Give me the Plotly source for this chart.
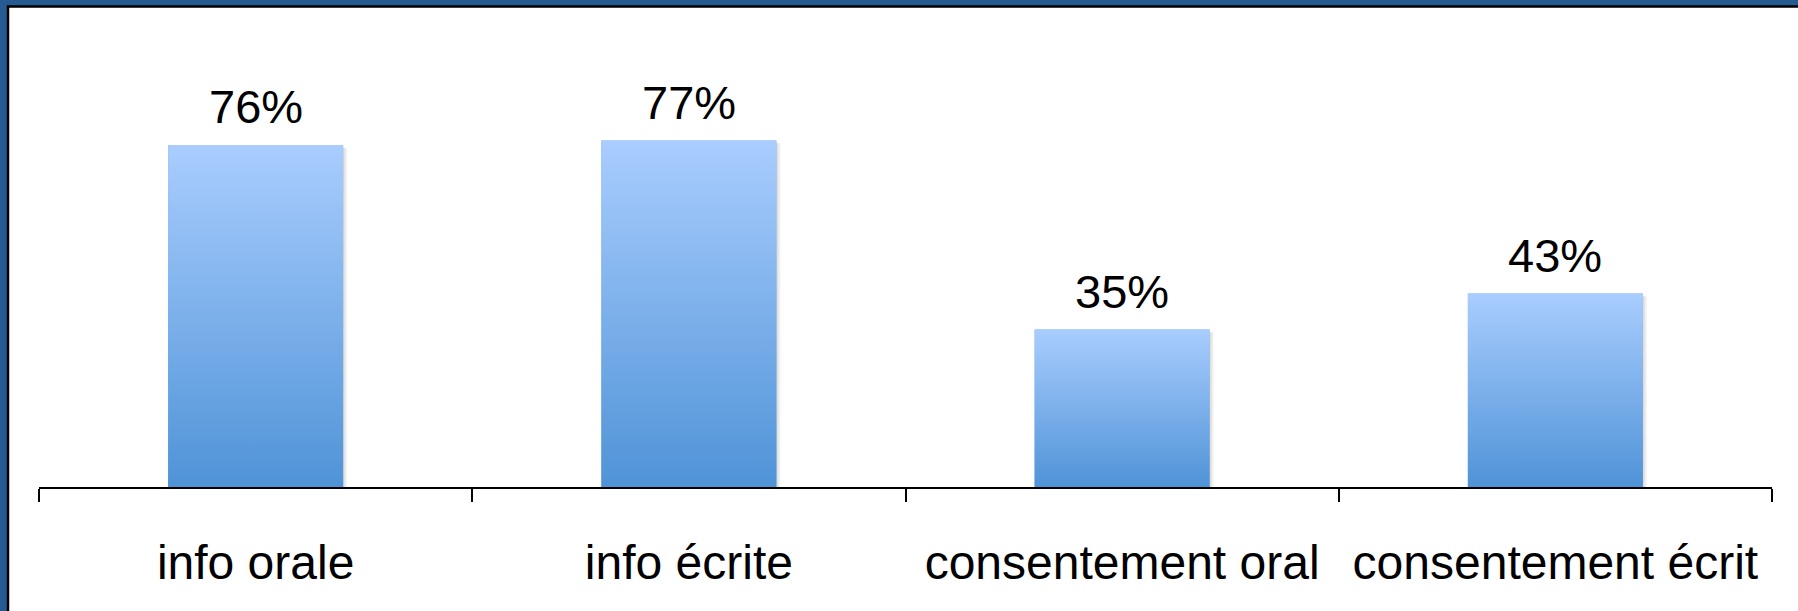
import plotly.graph_objects as go

categories = ["info orale", "info écrite", "consentement oral", "consentement écrit"]
values = [76, 77, 35, 43]
value_labels = [f"{v}%" for v in values]

W, H = 1798, 611
ML, MR, MT, MB = 39, 26, 82, 124
PW = W - ML - MR
PH = H - MT - MB
BAR_W = 0.404
SHADOW_W = 0.011
TOP_C = "#A9CDFE"
BOT_C = "#4F93D7"
FONT = "Liberation Sans, Arial, sans-serif"

fig = go.Figure()

# base bar trace (establishes categories; covered by gradient)
fig.add_trace(go.Bar(x=categories, y=values, width=BAR_W,
                     marker=dict(color="#7AAEEA", line=dict(width=0)),
                     hoverinfo="x+y", showlegend=False))

for i, v in enumerate(values):
    x0, x1 = i - BAR_W / 2, i + BAR_W / 2
    # soft shadow to the right of the bar
    fig.add_trace(go.Scatter(
        x=[x1, x1 + SHADOW_W, x1 + SHADOW_W, x1, x1],
        y=[0, 0, v - 0.6, v - 0.6, 0],
        xaxis="x2", yaxis="y", mode="lines", line=dict(width=0),
        fill="toself",
        fillgradient=dict(type="horizontal",
                          colorscale=[[0, "rgba(0,0,0,0.16)"], [1, "rgba(0,0,0,0)"]]),
        hoverinfo="skip", showlegend=False))
    # gradient bar body
    fig.add_trace(go.Scatter(
        x=[x0, x1, x1, x0, x0], y=[0, 0, v, v, 0],
        xaxis="x2", yaxis="y", mode="lines", line=dict(width=0),
        fill="toself",
        fillgradient=dict(type="vertical",
                          colorscale=[[0, BOT_C], [1, TOP_C]]),
        hoverinfo="skip", showlegend=False))

for c, v, t in zip(categories, values, value_labels):
    fig.add_annotation(x=c, y=v, xref="x", yref="y", text=t, showarrow=False,
                       yanchor="bottom", yshift=10,
                       font=dict(family=FONT, size=47, color="black"))

def px_to_paper_x(px):
    return (px - ML) / PW

def px_to_paper_y(py):
    return (H - MB - py) / PH

# frame: white panel with black edge on blue background
fig.add_shape(type="rect", xref="paper", yref="paper",
              x0=px_to_paper_x(8), x1=px_to_paper_x(W + 20),
              y0=px_to_paper_y(H + 20), y1=px_to_paper_y(6.5),
              fillcolor="white", line=dict(color="black", width=2.5),
              layer="below")

fig.update_layout(
    width=W, height=H,
    margin=dict(l=ML, r=MR, t=MT, b=MB, pad=0),
    paper_bgcolor="#255B90",
    plot_bgcolor="white",
    bargap=1 - BAR_W,
    xaxis=dict(type="category", showline=True, linecolor="black", linewidth=2,
               ticks="outside", tickson="boundaries", ticklen=13, tickwidth=2,
               tickcolor="black", showgrid=False, zeroline=False,
               tickfont=dict(family=FONT, size=48, color="black"),
               ticklabelstandoff=32, range=[-0.5, 3.5]),
    xaxis2=dict(overlaying="x", anchor="y", range=[-0.5, 3.5], visible=False,
                type="linear"),
    yaxis=dict(range=[0, 90], visible=False, showgrid=False, zeroline=False),
    font=dict(family=FONT, color="black"),
)

fig.write_html(
    "out.html",
    config={"displayModeBar": False},
    post_script="document.body.style.margin='0';document.body.style.padding='0';"
                "document.body.style.overflow='hidden';",
)
